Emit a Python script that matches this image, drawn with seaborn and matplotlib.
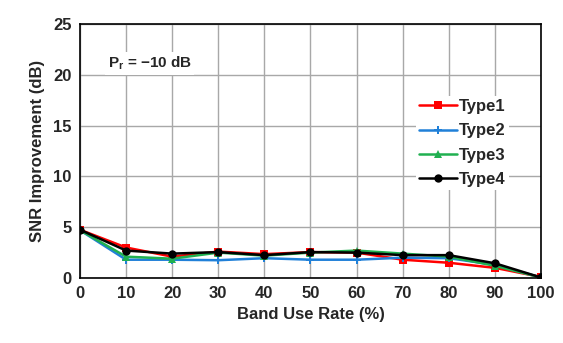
import matplotlib
matplotlib.use("Agg")
import matplotlib.pyplot as plt
import seaborn as sns
import pandas as pd

rate = [0, 10, 20, 30, 40, 50, 60, 70, 80, 90, 100]
type1 = [4.75, 3.0, 2.1, 2.6, 2.35, 2.55, 2.5, 1.8, 1.5, 1.0, 0.1]
type2 = [4.7, 1.8, 1.8, 1.75, 1.95, 1.8, 1.8, 2.0, 1.95, 1.3, 0.05]
type3 = [4.7, 2.1, 1.9, 2.5, 2.2, 2.5, 2.7, 2.4, 2.1, 1.2, 0.05]
type4 = [4.75, 2.7, 2.4, 2.55, 2.25, 2.55, 2.5, 2.25, 2.25, 1.45, 0.05]
names = ["Type1", "Type2", "Type3", "Type4"]

rows = []
for n, vals in zip(names, [type1, type2, type3, type4]):
    for x, y in zip(rate, vals):
        rows.append({"rate": x, "snr": y, "type": n})
df = pd.DataFrame(rows)

sns.set_theme(style="white")
plt.rcParams['font.family'] = ['Liberation Sans', 'DejaVu Sans']

fig = plt.figure(figsize=(5.63, 3.43), dpi=100)
ax = fig.add_axes([80/563, 1-278/343, (541-80)/563, (278-24)/343])

palette = {"Type1": "#ff0000", "Type2": "#2080d8", "Type3": "#20b050", "Type4": "#000000"}
markers = {"Type1": "s", "Type2": "P", "Type3": "^", "Type4": "o"}
sns.lineplot(data=df, x="rate", y="snr", hue="type", style="type", palette=palette,
             markers=markers, dashes=False, markersize=6, linewidth=1.8,
             markeredgewidth=0, ax=ax)

ax.set_xlim(0, 100)
ax.set_ylim(0, 25)
ax.set_xticks(range(0, 101, 10))
ax.set_yticks(range(0, 26, 5))
ax.grid(True, color="#a8a8a8", linewidth=1.0)
for s in ax.spines.values():
    s.set_color("#000000")
    s.set_linewidth(1.2)
ax.tick_params(axis="both", labelsize=12, length=0, pad=6)
for lab in ax.get_xticklabels() + ax.get_yticklabels():
    lab.set_fontweight("bold")
ax.set_xlabel("Band Use Rate (%)", fontsize=12, fontweight="bold", labelpad=4)
ax.set_ylabel("SNR Improvement (dB)", fontsize=12, fontweight="bold", labelpad=6)

ax.text(0.06, 0.845, r"P$_\mathregular{r}$ = −10 dB", transform=ax.transAxes,
        fontsize=11, fontweight="bold", ha="left", va="center",
        bbox=dict(facecolor="white", edgecolor="none", pad=2))

leg = ax.legend(loc="upper left", bbox_to_anchor=(0.71, 0.75), frameon=True,
                fontsize=12, handlelength=2.3, handletextpad=0.1, labelspacing=0.55,
                borderpad=0.2, title=None)
leg.get_frame().set_edgecolor("none")
leg.get_frame().set_facecolor("white")
leg.get_frame().set_alpha(1)
for t in leg.get_texts():
    t.set_fontweight("bold")

fig.savefig("out.png", dpi=100)
